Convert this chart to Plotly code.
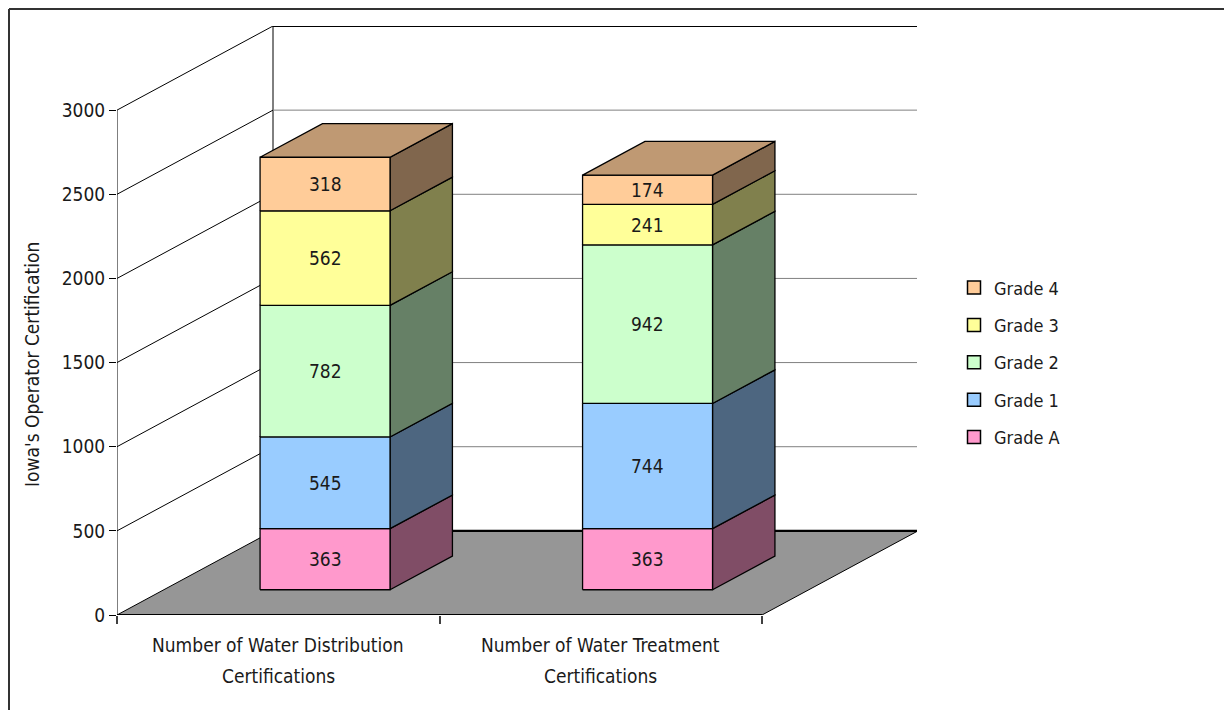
import plotly.graph_objects as go

# ---------------- data ----------------
categories = [["Number of Water Distribution", "Certifications"],
              ["Number of Water Treatment", "Certifications"]]
grades = ["Grade A", "Grade 1", "Grade 2", "Grade 3", "Grade 4"]
distribution = [363, 545, 782, 562, 318]
treatment = [363, 744, 942, 241, 174]
y_ticks = [0, 500, 1000, 1500, 2000, 2500, 3000]

front_colors = ["#FF99CC", "#99CCFF", "#CCFFCC", "#FFFF99", "#FFCC99"]
side_colors = ["#804D66", "#4D6680", "#668066", "#80804D", "#80664D"]
top_colors = ["#BF7399", "#7399BF", "#99BF99", "#BFBF73", "#BF9973"]

FONT = "Liberation Sans Narrow, Arial Narrow, DejaVu Sans Condensed, Liberation Sans, Arial"
TXT = "#1a1a1a"

# ---------------- layout geometry (page has an 8px body margin) ----------------
OFF = 8
PL, PT, PW, PH = 117, 26, 800, 589          # plot area on screen
ML, MT = PL - OFF, PT - OFF
MR, MB = 1232 - ML - PW, 710 - MT - PH

def px_x(sx):   # screen x -> paper x
    return (sx - PL) / PW

def px_y(sy):   # screen y -> paper y
    return (PT + PH - sy) / PH

# ---------------- 3D projection parameters ----------------
DX = 0.48372       # horizontal depth shift (x units) for full depth
DY = 500           # vertical depth shift (y units) for full depth
D0, D1 = 0.3, 0.7  # bar depth range
W = 0.403          # bar width
EDGE = "#000000"

fig = go.Figure()

def poly(xs, ys, fill, lw=1.3, lc=EDGE):
    fig.add_trace(go.Scatter(
        x=xs + [xs[0]], y=ys + [ys[0]], mode="lines", fill="toself",
        fillcolor=fill, line=dict(color=lc, width=lw),
        hoverinfo="skip", showlegend=False, cliponaxis=False))

def line(xs, ys, color, width):
    fig.add_trace(go.Scatter(
        x=xs, y=ys, mode="lines", line=dict(color=color, width=width),
        hoverinfo="skip", showlegend=False, cliponaxis=False))

n = len(categories)
# floor
fig.add_trace(go.Scatter(
    x=[0, n, n + DX, DX, 0], y=[0, 0, DY, DY, 0], mode="lines", fill="toself",
    fillcolor="#969696", line=dict(width=0), hoverinfo="skip",
    showlegend=False, cliponaxis=False))
line([0, DX], [0, DY], EDGE, 1)
line([n, n + DX], [0, DY], EDGE, 1)
line([DX, n + DX], [DY, DY], EDGE, 2.2)
line([0, n], [0, 0], EDGE, 2.2)

# walls & gridlines
line([DX, DX], [DY, y_ticks[-1] + DY], EDGE, 1)
line([n + DX, n + DX], [DY, y_ticks[-1] + DY], "#808080", 1.5)
for v in y_ticks[1:]:
    line([0, DX], [v, v + DY], EDGE, 1)
    if v == y_ticks[-1]:
        line([DX, n + DX], [v + DY, v + DY], EDGE, 2.2)
    else:
        line([DX, n + DX], [v + DY, v + DY], "#808080", 1)
# y axis line
line([0, 0], [0, y_ticks[-1]], EDGE, 1)

# bars
annotations = []
for ci, vals in enumerate([distribution, treatment]):
    c = ci + 0.5
    xl = c - W / 2 + D0 * DX
    xr = c + W / 2 + D0 * DX
    ddx = (D1 - D0) * DX
    ddy = (D1 - D0) * DY
    base = 0
    for gi, v in enumerate(vals):
        y0 = base + D0 * DY
        y1 = base + v + D0 * DY
        poly([xr, xr + ddx, xr + ddx, xr], [y0, y0 + ddy, y1 + ddy, y1], side_colors[gi])
        poly([xl, xr, xr, xl], [y0, y0, y1, y1], front_colors[gi])
        annotations.append(dict(
            x=(xl + xr) / 2, y=(y0 + y1) / 2, xref="x", yref="y", text=str(v),
            showarrow=False, bgcolor=front_colors[gi], borderpad=1,
            xanchor="center", yanchor="middle",
            font=dict(family=FONT, size=19, color=TXT)))
        base += v
    yt = base + D0 * DY
    poly([xl, xr, xr + ddx, xl + ddx], [yt, yt, yt + ddy, yt + ddy], top_colors[len(vals) - 1])

# category labels (two lines each)
for ci, lines in enumerate(categories):
    for li, txt in enumerate(lines):
        annotations.append(dict(
            x=ci + 0.5, y=px_y(645 + 31 * li), xref="x", yref="paper", text=txt,
            showarrow=False, xanchor="center", yanchor="middle",
            font=dict(family=FONT, size=19, color=TXT)))

# legend entries
for gi in range(len(grades) - 1, -1, -1):
    fig.add_trace(go.Scatter(
        x=[None], y=[None], mode="markers", name=grades[gi],
        legendgroup=grades[gi],
        marker=dict(symbol="square", size=13, color=front_colors[gi],
                    line=dict(color=EDGE, width=1.5))))

annotations.append(dict(
    x=px_x(32), y=px_y(365), xref="paper", yref="paper",
    text="Iowa's Operator Certification", textangle=-90, showarrow=False,
    xanchor="center", yanchor="middle",
    font=dict(family=FONT, size=19, color=TXT)))

fig.update_layout(
    width=1232, height=710,
    margin=dict(l=ML, r=MR, t=MT, b=MB),
    paper_bgcolor="white", plot_bgcolor="white",
    font=dict(family=FONT, size=19, color=TXT),
    xaxis=dict(range=[0, PW / 322.5], showgrid=False, zeroline=False,
               showline=False, tickmode="array", tickvals=[0, 1, 2],
               showticklabels=False, ticks="outside", ticklen=8,
               tickcolor="#404040", tickwidth=1.5),
    yaxis=dict(range=[0, 3500], showgrid=False, zeroline=False, showline=False,
               tickmode="array", tickvals=y_ticks, ticks="outside", ticklen=7,
               tickcolor=EDGE, tickwidth=1,
               tickfont=dict(family=FONT, size=19, color=TXT)),
    legend=dict(x=px_x(954), y=px_y(297) + 0.047,
                xanchor="left", yanchor="top", tracegroupgap=11,
                font=dict(family=FONT, size=18, color=TXT),
                traceorder="grouped", itemwidth=30),
    annotations=annotations,
    shapes=[
        dict(type="line", xref="paper", yref="paper",
             x0=px_x(OFF + 1), x1=px_x(1300),
             y0=px_y(OFF + 1), y1=px_y(OFF + 1),
             line=dict(color="#333333", width=2)),
        dict(type="line", xref="paper", yref="paper",
             x0=px_x(OFF + 1), x1=px_x(OFF + 1),
             y0=px_y(OFF + 1), y1=px_y(800),
             line=dict(color="#333333", width=2)),
    ],
    hovermode=False,
)

fig.write_html("out.html")
